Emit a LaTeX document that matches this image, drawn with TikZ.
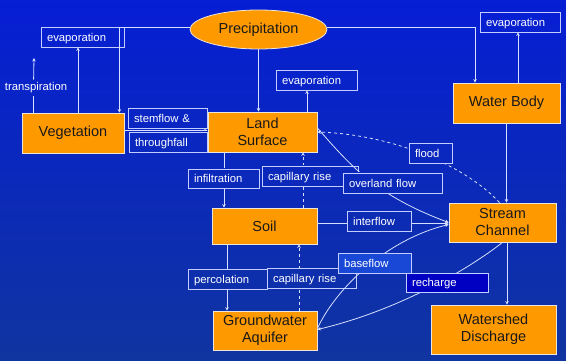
\documentclass[tikz,border=0pt]{standalone}
\usepackage{fontspec}
\setmainfont{Liberation Sans}
\usetikzlibrary{arrows.meta,shapes.geometric}
\definecolor{bgtop}{RGB}{6,30,212}
\definecolor{bgmid}{RGB}{0,2,250}
\definecolor{bgbot}{RGB}{16,52,160}
\definecolor{orangebox}{RGB}{255,153,0}
\definecolor{boxedge}{RGB}{235,230,220}
\definecolor{linec}{RGB}{215,225,255}
\definecolor{lblborder}{RGB}{195,205,255}
\definecolor{fillBase}{RGB}{25,72,215}
\definecolor{fillRech}{RGB}{0,0,195}
\begin{document}
\begin{tikzpicture}[x=1pt,y=-1pt,
  bgshade/.style={top color=bgtop, middle color=bgmid, bottom color=bgbot},
  mainbox/.style={draw=boxedge, line width=0.8pt, fill=orangebox, text=black!90,
    font=\fontsize{14.5}{17}\selectfont, align=center, inner sep=0pt},
  lblbase/.style={draw=lblborder, line width=0.8pt, text=white,
    font=\fontsize{11.3}{13}\selectfont, inner xsep=6pt, inner ysep=0pt,
    text height=10pt, text depth=1.2pt,
    minimum height=20pt, align=left},
  lbl/.style={lblbase, path picture={\shade[bgshade] (bgtl) rectangle (bgbr);}},
  flow/.style={draw=linec, line width=0.8pt},
  arr/.style={flow, -{Stealth[length=3.5pt,width=3.5pt]}},
  dflow/.style={arr, dash pattern=on 3pt off 3pt}
]
\coordinate (bgtl) at (0,0);
\coordinate (bgbr) at (566,361);
\shade[bgshade] (bgtl) rectangle (bgbr);
\useasboundingbox (bgtl) rectangle (bgbr);

% main nodes
\node[mainbox, ellipse, minimum width=137pt, minimum height=39pt] (prec) at (258.5,29.5) {Precipitation};
\node[mainbox, minimum width=102pt, minimum height=40pt] (veg) at (73,133) {Vegetation};
\node[mainbox, minimum width=109pt, minimum height=40pt] (ls) at (262.5,132) {Land\\Surface};
\node[mainbox, minimum width=107pt, minimum height=40pt] (wb) at (506.5,103) {Water Body};
\node[mainbox, minimum width=107pt, minimum height=39pt] (sc) at (502.5,222.5) {Stream\\Channel};
\node[mainbox, minimum width=125pt, minimum height=49pt] (wd) at (493.5,329.5) {Watershed\\Discharge};
\node[mainbox, minimum width=105pt, minimum height=36pt] (soil) at (264.5,226) {Soil};
\node[mainbox, minimum width=104pt, minimum height=39pt] (gw) at (265,330.5) {Groundwater\\Aquifer};

% evaporation boxes
\node[lbl, text width=71pt] (evL) at (82.5,37) {evaporation};
\node[lbl, text width=69pt] (evM) at (316.5,80) {evaporation};
\node[lbl, text width=68pt] (evR) at (520,22) {evaporation};

% transpiration
\node[text=white, font=\fontsize{11.3}{13}\selectfont, inner sep=3pt] (trans) at (36,88) {transpiration};
\coordinate (transtop) at (34,58);

% edges under label boxes
\draw[arr] ([yshift=2.5pt]prec.west) -| ([xshift=-5pt]veg.north east);
\draw[arr] ([xshift=5pt]veg.north) -- ([xshift=5pt]veg.north |- evL.south);
\draw[flow] ([xshift=12pt]veg.north west) -- ([xshift=12pt]veg.north west |- trans.south);
\draw[arr] ([xshift=12pt]veg.north west |- trans.north) -- (transtop);
\draw[arr] ([yshift=2.5pt]veg.east) -- ([yshift=2.5pt]veg.east -| ls.west);
\draw[arr] (prec.south) -- (prec.south |- ls.north);
\draw[arr] ([xshift=44.5pt]ls.north) -- ([xshift=44.5pt]ls.north |- evM.south);
\draw[arr] ([yshift=2.5pt]prec.east) -| ([xshift=-31.5pt]wb.north);
\draw[arr] ([xshift=11.5pt]wb.north) -- ([xshift=11.5pt]wb.north |- evR.south);
\draw[arr] (wb.south) -- (wb.south |- sc.north);
\draw[arr] ([xshift=4.5pt]sc.south) -- ([xshift=4.5pt]sc.south |- wd.north);
\draw[dflow] ([xshift=-3pt]sc.north) .. controls (470,170) and (400,135) .. (ls.east);
\draw[arr] ([yshift=3pt]soil.east) -- ([yshift=3pt]soil.east -| sc.west);
\draw[arr] ([xshift=-38.5pt]ls.south) -- ([xshift=-38.5pt]ls.south |- soil.north);
\draw[dflow] ([xshift=38.5pt]soil.north) -- ([xshift=38.5pt]soil.north |- ls.south);
\draw[arr] ([xshift=-37.5pt]soil.south) -- ([xshift=-37.5pt]soil.south |- gw.north);
\draw[dflow] ([xshift=34pt]gw.north) -- ([xshift=34pt]gw.north |- soil.south);
\draw[arr] (sc.south) .. controls (470,268) and (400,310) .. ([yshift=1pt]gw.east);

% label boxes
\node[lbl, text width=67pt] (stem) at (167.5,118) {stemflow \&};
\node[lbl, text width=66pt] (thru) at (168,142) {throughfall};
\node[lbl, text width=31pt] (flood) at (430.5,153) {flood};
\node[lbl, text width=59pt, minimum height=19pt] (inf) at (223.5,178.5) {infiltration};
\node[lbl, text width=84pt] (capU) at (310,176) {capillary rise};
\node[lbl, text width=52pt] (intf) at (379,221) {interflow};
\node[lbl, text width=67pt] (perc) at (227.5,279) {percolation};
\node[lbl, text width=77pt] (capL) at (311.5,278) {capillary rise};

% edges over some label boxes
\draw[arr] ([yshift=4pt]ls.east) .. controls (350,165) and (375,195) .. (sc.west);
\draw[arr] ([yshift=2pt]gw.east) .. controls (335,290) and (385,240) .. ([yshift=-2pt]sc.west);

\node[lbl, text width=87pt] (ovl) at (392.5,183) {overland flow};
\node[lblbase, fill=fillBase, text width=61pt] (base) at (374.5,263) {baseflow};
\node[lblbase, fill=fillRech, text width=70pt, minimum height=19pt] (rech) at (447,282.5) {recharge};
\end{tikzpicture}
\end{document}
